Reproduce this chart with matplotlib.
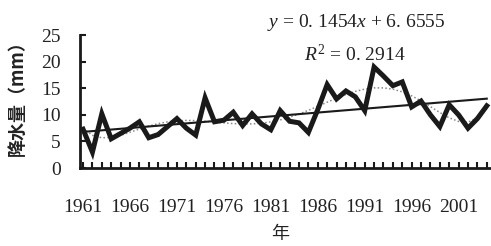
import numpy as np
import matplotlib
matplotlib.use("Agg")
import matplotlib.pyplot as plt

years = list(range(1961, 2005))
precip = [7.3, 3.0, 10.2, 5.5, 6.5, 7.5, 8.7, 5.7, 6.3, 7.8,
          9.3, 7.5, 6.2, 13.2, 8.7, 9.0, 10.5, 8.0, 10.2, 8.3,
          7.2, 10.8, 8.8, 8.5, 6.7, 11.0, 15.7, 13.0, 14.5, 13.4,
          10.8, 19.0, 17.3, 15.5, 16.2, 11.5, 12.6, 10.0, 7.8, 11.9,
          10.0, 7.5, 9.3, 11.7]
slope = 0.1454
intercept = 6.6555
r2 = 0.2914
xtick_years = [1961, 1966, 1971, 1976, 1981, 1986, 1991, 1996, 2001]
yticks = [0, 5, 10, 15, 20, 25]

plt.rcParams['mathtext.fontset'] = 'custom'
plt.rcParams['mathtext.rm'] = 'Liberation Serif'
plt.rcParams['mathtext.it'] = 'Liberation Serif:italic'

fig = plt.figure(figsize=(4.91, 2.46), dpi=100)
ax = fig.add_axes([0.163, 0.317, 0.837, 0.54])

yrs = np.array(years, dtype=float)
vals = np.array(precip)
idx = np.arange(1, len(years) + 1)

# polynomial trend (dotted)
t = (idx - idx.mean()) / idx.std()
coef = np.polyfit(t, vals, 6)
ax.plot(yrs, np.polyval(coef, t), linestyle=(0, (1, 1.5)), color='#888888', lw=1.1, zorder=1)

# linear trend
ax.plot(yrs, slope * idx + intercept, color='#1a1a1a', lw=1.5, zorder=2)

# data
ax.plot(yrs, vals, color='#1a1a1a', lw=3.6, solid_joinstyle='miter', zorder=3)

ax.set_xlim(1960.68, 2004.45)
ax.set_ylim(0, 25)
ax.spines['top'].set_visible(False)
ax.spines['right'].set_visible(False)
for s in ('left', 'bottom'):
    ax.spines[s].set_linewidth(2.0)
    ax.spines[s].set_color('#1a1a1a')

ax.set_yticks(yticks)
ax.set_xticks(years)
ax.set_xticklabels([str(y) if y in xtick_years else '' for y in years])
ax.tick_params(axis='x', direction='in', length=4, width=1.5, color='#1a1a1a', pad=22)
ax.tick_params(axis='y', direction='in', length=4, width=1.5, color='#1a1a1a', pad=14)
for lab in ax.get_xticklabels() + ax.get_yticklabels():
    lab.set_fontfamily('Liberation Serif')
    lab.set_fontsize(14)
    lab.set_color('#222222')

fig.text(0.036, 0.62, '降水量（mm）', rotation=90, ha='center', va='center',
         fontsize=13, fontweight='bold', family=['Noto Sans CJK SC', 'DejaVu Sans'], color='#222222')
fig.text(0.57, 0.05, '年', ha='center', va='center', fontsize=13,
         family=['Noto Sans CJK SC', 'DejaVu Sans'], color='#222222')

fig.text(0.725, 0.91, r'$y$ = 0. 1454$x$ + 6. 6555', ha='center', va='center',
         fontsize=14, family='Liberation Serif', color='#222222')
fig.text(0.723, 0.78, r'$R^2$ = 0. 2914', ha='center', va='center',
         fontsize=14, family='Liberation Serif', color='#222222')

fig.savefig('out.png', dpi=100)
